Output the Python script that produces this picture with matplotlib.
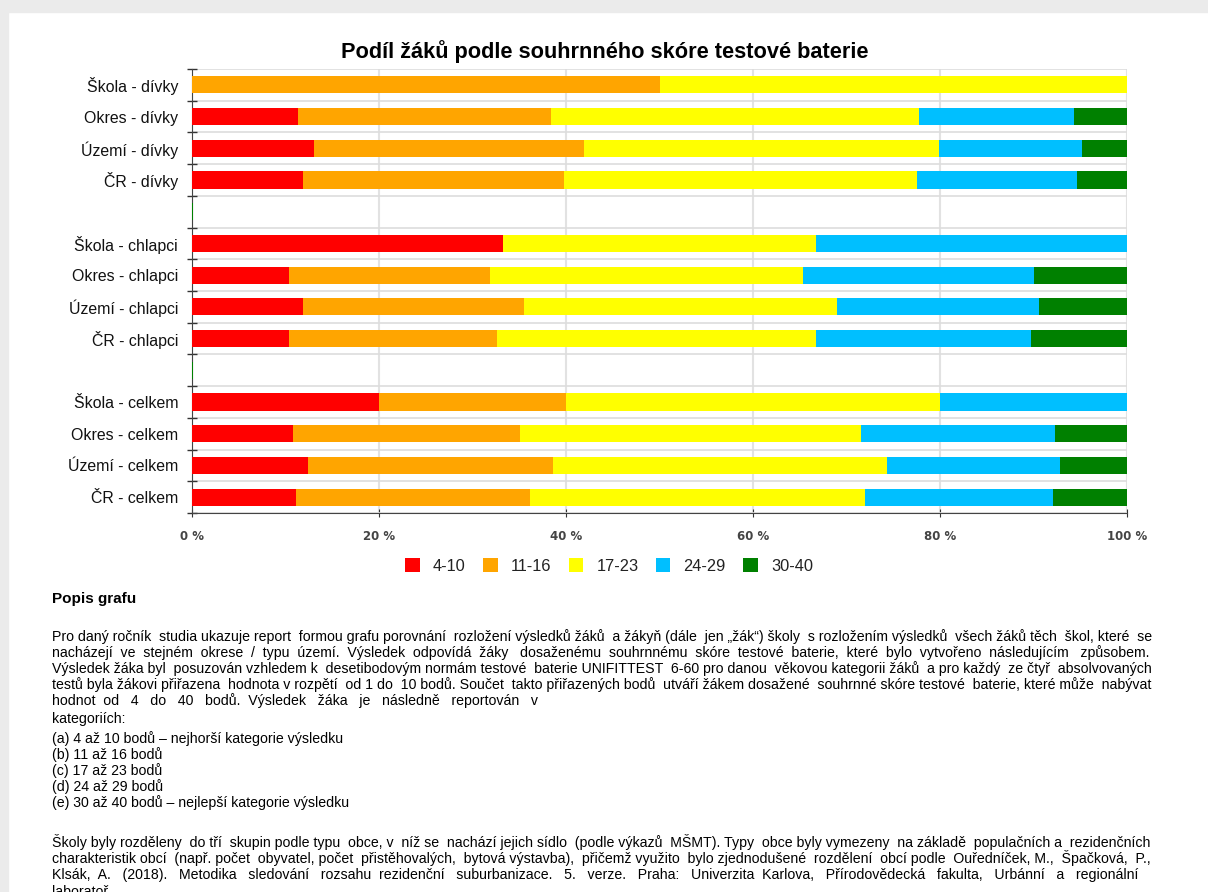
import matplotlib
matplotlib.use("Agg")
import matplotlib.pyplot as plt
from matplotlib.patches import Rectangle
from matplotlib.ticker import FixedLocator
import numpy as np

W, H = 1208, 892

categories = ["Škola - dívky", "Okres - dívky", "Území - dívky", "ČR - dívky", "",
              "Škola - chlapci", "Okres - chlapci", "Území - chlapci", "ČR - chlapci", "",
              "Škola - celkem", "Okres - celkem", "Území - celkem", "ČR - celkem"]

# share of pupils (%) in each score band
s_4_10 = [0, 11.35, 13.0, 11.85, 0, 33.3, 10.35, 11.85, 10.4, 0, 20, 10.85, 12.4, 11.1]
s_11_16 = [50, 27.05, 28.9, 27.95, 0, 0, 21.55, 23.65, 22.2, 0, 20, 24.25, 26.2, 25.0]
s_17_23 = [50, 39.4, 38.0, 37.7, 0, 33.4, 33.5, 33.5, 34.1, 0, 40, 36.5, 35.7, 35.9]
s_24_29 = [0, 16.5, 15.3, 17.1, 0, 33.3, 24.6, 21.6, 23.0, 0, 20, 20.7, 18.5, 20.1]
s_30_40 = [0, 5.7, 4.8, 5.4, 0.15, 0, 10.0, 9.4, 10.3, 0.15, 0, 7.7, 7.2, 7.9]

band_labels = ["4-10", "11-16", "17-23", "24-29", "30-40"]
band_colors = ["#ff0000", "#ffa500", "#ffff00", "#00bfff", "#008000"]

x_ticks = [0, 20, 40, 60, 80, 100]

title = "Podíl žáků podle souhrnného skóre testové baterie"

para1 = [
    "Pro daný ročník studia ukazuje report formou grafu porovnání rozložení výsledků žáků a žákyň (dále jen „žák“) školy s rozložením výsledků všech žáků těch škol, které se",
    "nacházejí ve stejném okrese / typu území. Výsledek odpovídá žáky dosaženému souhrnnému skóre testové baterie, které bylo vytvořeno následujícím způsobem.",
    "Výsledek žáka byl posuzován vzhledem k desetibodovým normám testové baterie UNIFITTEST 6-60 pro danou věkovou kategorii žáků a pro každý ze čtyř absolvovaných",
    "testů byla žákovi přiřazena hodnota v rozpětí od 1 do 10 bodů. Součet takto přiřazených bodů utváří žákem dosažené souhrnné skóre testové baterie, které může nabývat",
    "hodnot od 4 do 40 bodů. Výsledek žáka je následně reportován v",
]
para1_ends = [1151, 1150, 1151, 1151, 537]
items = [
    "kategoriích:",
    "(a) 4 až 10 bodů – nejhorší kategorie výsledku",
    "(b) 11 až 16 bodů",
    "(c) 17 až 23 bodů",
    "(d) 24 až 29 bodů",
    "(e) 30 až 40 bodů – nejlepší kategorie výsledku",
]
para2 = [
    "Školy byly rozděleny do tří skupin podle typu obce, v níž se nachází jejich sídlo (podle výkazů MŠMT). Typy obce byly vymezeny na základě populačních a rezidenčních",
    "charakteristik obcí (např. počet obyvatel, počet přistěhovalých, bytová výstavba), přičemž využito bylo zjednodušené rozdělení obcí podle  Ouředníček, M., Špačková, P.,",
    "Klsák, A. (2018). Metodika sledování rozsahu rezidenční suburbanizace. 5. verze. Praha: Univerzita Karlova, Přírodovědecká fakulta, Urbánní a regionální",
]
para2_ends = [1152, 1151, 1140]
last_line = "laboratoř."


def px(x, y):
    return x / W, 1 - y / H


fig = plt.figure(figsize=(W / 100, H / 100), dpi=100, facecolor="white")
# page background of the screenshot
fig.patches.append(Rectangle((0, 1 - 12 / H), 1, 12 / H, transform=fig.transFigure,
                             color="#ebebeb", zorder=-10))
fig.patches.append(Rectangle((0, 0), 8 / W, 1, transform=fig.transFigure,
                             color="#ebebeb", zorder=-10))

ax = fig.add_axes([192 / W, 1 - 513 / H, (1127 - 192) / W, (513 - 69) / H])
y = np.arange(len(categories))
series = [s_4_10, s_11_16, s_17_23, s_24_29, s_30_40]
left = np.zeros(len(categories))
handles = []
for vals, lbl, col in zip(series, band_labels, band_colors):
    vals = np.array(vals, dtype=float)
    b = ax.barh(y, vals, left=left, height=0.54, color=col, label=lbl, zorder=3)
    handles.append(b)
    left += vals

ax.set_xlim(0, 100)
ax.set_ylim(len(categories) - 0.5, -0.5)
ax.set_xticks(x_ticks)
ax.set_xticklabels([f"{t} %" for t in x_ticks], fontsize=8.5, fontweight="bold",
                   color="#444444", family="DejaVu Sans")
ax.set_yticks(y)
ax.set_yticklabels(categories, fontsize=11.4, family="Liberation Sans", color="#111111")
ax.yaxis.set_minor_locator(FixedLocator(np.arange(-0.5, len(categories), 1)))
ax.tick_params(axis="y", which="major", length=0, pad=10)
ax.tick_params(axis="y", which="minor", length=7, direction="inout", color="#333333", width=1)
ax.tick_params(axis="x", which="major", length=6, direction="inout", color="#333333", pad=9)
ax.grid(axis="x", which="major", color="#e2e2e2", lw=1.5, zorder=0)
ax.grid(axis="y", which="minor", color="#dddddd", lw=1.2, zorder=0)
ax.set_axisbelow(True)
for sp in ["top", "right"]:
    ax.spines[sp].set_visible(False)
ax.spines["left"].set_color("#444444")
ax.spines["bottom"].set_color("#444444")

fig.text(*px(605, 52), title, ha="center", va="center", fontsize=15.7,
         fontweight="bold", family="Liberation Sans", color="black")

fig.legend(handles=handles, labels=band_labels, loc="center",
           bbox_to_anchor=px(609, 566), ncol=5, frameon=False,
           handlelength=0.9, handleheight=0.9, handletextpad=0.8, columnspacing=1.05,
           prop={"family": "Liberation Sans", "size": 11.8})
for t in fig.legends[0].get_texts():
    t.set_color("#222222")

renderer = fig.canvas.get_renderer()
txt_kw = dict(fontsize=10.2, family="Liberation Sans", color="black", va="baseline", ha="left")
BASE = 4.5  # baseline offset below the line centre, px


def text_width(s):
    t = fig.text(0, 0, s, **txt_kw)
    w = t.get_window_extent(renderer).width
    t.remove()
    return w


SPACE = text_width("a a") - text_width("aa")


def justified(line, x0, x1, ypix):
    # spread extra spaces evenly over the gaps so one string fills x0..x1
    words = line.split()
    natural = text_width(" ".join(words))
    gaps = len(words) - 1
    extra = max(int(round((x1 - x0 - natural) / SPACE)), 0)
    parts = [words[0]]
    for i, w in enumerate(words[1:]):
        n = 1 + ((i + 1) * extra) // gaps - (i * extra) // gaps
        parts.append(" " * n + w)
    fig.text(*px(x0, ypix + BASE), "".join(parts), **txt_kw)


fig.text(*px(52, 599 + BASE), "Popis grafu", fontsize=11, fontweight="bold",
         family="Liberation Sans", va="baseline", ha="left")

for i, (line, xe) in enumerate(zip(para1, para1_ends)):
    justified(line, 52, xe, 637 + 16 * i)
fig.text(*px(52, 719 + BASE), items[0], **txt_kw)
for i, line in enumerate(items[1:]):
    fig.text(*px(52, 739 + 16 * i + BASE), line, **txt_kw)
for i, (line, xe) in enumerate(zip(para2, para2_ends)):
    justified(line, 52, xe, 843 + 16 * i)
fig.text(*px(52, 891 + BASE), last_line, **txt_kw)

fig.savefig("out.png", dpi=100, facecolor="white")
